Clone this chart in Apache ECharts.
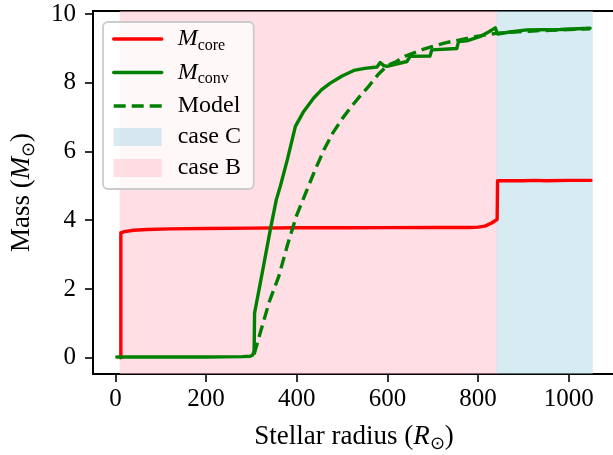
<!DOCTYPE html>
<html>
<head>
<meta charset="utf-8">
<script src="https://cdn.jsdelivr.net/npm/echarts@6/dist/echarts.min.js"></script>
<style>html,body{margin:0;padding:0;background:#fff}#c{width:613px;height:455px}</style>
</head>
<body>
<div id="c"></div>
<script>
// ---- data ----
const xTicks = [0, 200, 400, 600, 800, 1000];
const yTicks = [0, 2, 4, 6, 8, 10];

const coreX = [12, 12, 20, 40, 70, 120, 200, 300, 400, 500, 600, 700, 780, 800, 815, 830, 842, 843, 900, 925, 950, 1000, 1049];
const coreY = [0, 3.63, 3.67, 3.71, 3.73, 3.75, 3.76, 3.77, 3.78, 3.78, 3.785, 3.79, 3.79, 3.80, 3.83, 3.92, 4.02, 5.15, 5.15, 5.16, 5.15, 5.16, 5.16];

const convX = [3, 100, 200, 280, 297, 303, 306, 307, 320, 330, 342, 355, 364, 379, 397, 415, 437, 455, 474, 500, 526, 550, 577, 584, 592, 599, 643, 650, 694, 698, 753, 757, 775, 805, 823, 838, 843, 870, 908, 981, 1047];
const convY = [0.02, 0.02, 0.02, 0.03, 0.04, 0.08, 0.2, 1.3, 2.2, 2.9, 3.75, 4.6, 5.0, 5.75, 6.73, 7.16, 7.55, 7.80, 7.99, 8.20, 8.36, 8.42, 8.46, 8.59, 8.50, 8.48, 8.62, 8.77, 8.78, 8.96, 9.00, 9.20, 9.22, 9.35, 9.48, 9.60, 9.42, 9.48, 9.54, 9.55, 9.59];

const modelX = [306, 320, 340, 360, 380, 400, 420, 440, 460, 480, 500, 520, 540, 560, 580, 600, 620, 640, 660, 680, 700, 730, 760, 800, 840, 880, 920, 960, 1000, 1047];
const modelY = [0.1, 0.75, 1.65, 2.35, 3.3, 4.15, 4.8, 5.45, 6.05, 6.55, 6.95, 7.3, 7.62, 7.92, 8.25, 8.5, 8.62, 8.78, 8.88, 8.98, 9.06, 9.17, 9.25, 9.36, 9.44, 9.48, 9.51, 9.53, 9.55, 9.57];

const caseB = [9.5, 842];
const caseC = [841, 1053];

const names = ['M_core', 'M_conv', 'Model', 'case C', 'case B'];

const zip = (xs, ys) => xs.map((x, i) => [x, ys[i]]);
const FONT = 'Liberation Serif';
const pinkA = 'rgba(255,192,203,0.5)';
const blueA = 'rgba(173,216,230,0.5)';
const LW = 3.4;

const chart = echarts.init(document.getElementById('c'), null, {renderer: 'canvas'});

function richFor(size) {
  return {
    r: {fontFamily: FONT, fontSize: size, color: '#000'},
    i: {fontFamily: FONT, fontSize: size, fontStyle: 'italic', color: '#000'},
    s: {fontFamily: FONT, fontSize: Math.round(size * 0.68), color: '#000', padding: [Math.round(size * 0.55), 0, 0, 0]}
  };
}

chart.setOption({
  animation: false,
  grid: {left: 93, top: 11, right: -2, bottom: 81, show: true, borderColor: '#000', borderWidth: 1.8,
         backgroundColor: 'transparent', containLabel: false, outerBoundsMode: 'none'},
  xAxis: {
    type: 'value', min: -49.4, max: 1102,
    name: '{r|Stellar radius (}{i|R}{s|⊙}{r|)}',
    nameLocation: 'middle', nameGap: 46,
    nameTextStyle: {rich: richFor(27)},
    axisLine: {show: true, onZero: false, lineStyle: {color: '#000', width: 1.8}},
    axisTick: {show: true, length: 8, inside: false, customValues: xTicks, lineStyle: {color: '#000', width: 1.6}},
    axisLabel: {customValues: xTicks, margin: 13, fontFamily: FONT, fontSize: 25, color: '#000', formatter: v => String(v)},
    splitLine: {show: false}
  },
  yAxis: {
    type: 'value', min: -0.475, max: 10.09,
    name: '{r|Mass (}{i|M}{s|⊙}{r|)}',
    nameLocation: 'middle', nameGap: 55, nameRotate: 90,
    nameTextStyle: {rich: richFor(27)},
    axisLine: {show: true, onZero: false, lineStyle: {color: '#000', width: 1.8}},
    axisTick: {show: true, length: 8, customValues: yTicks, lineStyle: {color: '#000', width: 1.6}},
    axisLabel: {customValues: yTicks, margin: 17, fontFamily: FONT, fontSize: 25, color: '#000', formatter: v => String(v)},
    splitLine: {show: false}
  },
  legend: {
    orient: 'vertical', left: 103, top: 22,
    padding: [5, 10, 9, 9], itemGap: 7,
    itemWidth: 48, itemHeight: 18,
    backgroundColor: 'rgba(255,255,255,0.8)', borderColor: '#cccccc', borderWidth: 1.8, borderRadius: 5,
    z: 10,
    itemStyle: {opacity: 0},
    lineStyle: {width: LW},
    data: [
      {name: names[0]}, {name: names[1]}, {name: names[2]},
      {name: names[3], icon: 'rect', itemStyle: {color: blueA, opacity: 1}},
      {name: names[4], icon: 'rect', itemStyle: {color: pinkA, opacity: 1}}
    ],
    formatter: function (n) {
      if (n === 'M_core') return '{i|M}{s|core}';
      if (n === 'M_conv') return '{i|M}{s|conv}';
      return '{r|' + n + '}';
    },
    textStyle: {fontFamily: FONT, fontSize: 24, color: '#000', lineHeight: 24, width: 66, padding: [0, 0, 0, 11], rich: richFor(24)}
  },
  series: [
    {name: names[4], type: 'line', data: [], silent: true, z: 1,
     markArea: {silent: true, itemStyle: {color: pinkA}, data: [[{xAxis: caseB[0]}, {xAxis: caseB[1]}]]}},
    {name: names[3], type: 'line', data: [], silent: true, z: 1,
     markArea: {silent: true, itemStyle: {color: blueA}, data: [[{xAxis: caseC[0]}, {xAxis: caseC[1]}]]}},
    {name: names[0], type: 'line', data: zip(coreX, coreY), symbol: 'none', z: 3,
     lineStyle: {color: '#ff0000', width: LW, join: 'round', cap: 'round'}, itemStyle: {color: '#ff0000'}},
    {name: names[1], type: 'line', data: zip(convX, convY), symbol: 'none', z: 3,
     lineStyle: {color: '#008000', width: LW, join: 'round', cap: 'round'}, itemStyle: {color: '#008000'}},
    {name: names[2], type: 'line', data: zip(modelX, modelY), symbol: 'none', z: 3,
     lineStyle: {color: '#008000', width: LW, type: [12, 6]}, itemStyle: {color: '#008000'}}
  ]
});
</script>
</body>
</html>
